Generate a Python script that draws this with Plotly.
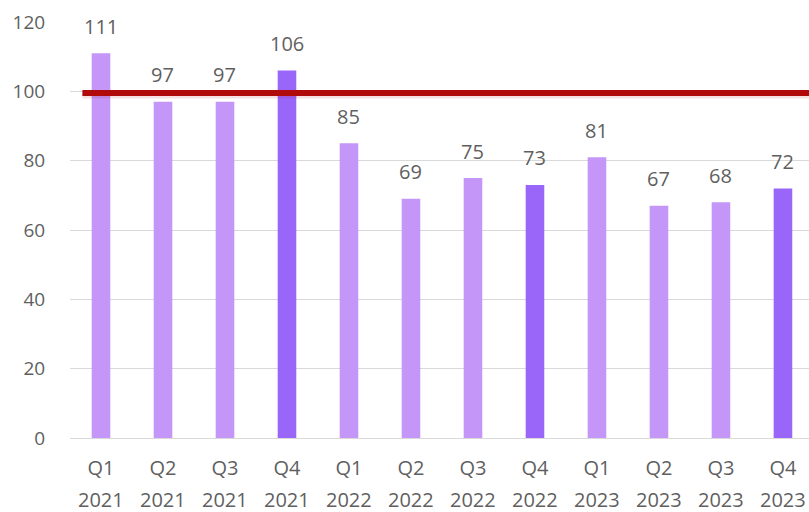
import plotly.graph_objects as go

quarters = ["Q1", "Q2", "Q3", "Q4", "Q1", "Q2", "Q3", "Q4", "Q1", "Q2", "Q3", "Q4"]
years = ["2021", "2021", "2021", "2021", "2022", "2022", "2022", "2022", "2023", "2023", "2023", "2023"]
values = [111, 97, 97, 106, 85, 69, 75, 73, 81, 67, 68, 72]
target = 100
y_ticks = [0, 20, 40, 60, 80, 100, 120]

LIGHT = "#C396F8"
DARK = "#9A66FA"
colors = [DARK if q == "Q4" else LIGHT for q in quarters]
FONT = "Open Sans"
TXT = "#5F5F5F"

fig = go.Figure()
fig.add_trace(go.Bar(
    x=list(range(len(values))), y=values,
    marker=dict(color=colors, line=dict(width=0)),
    width=0.3,
    hoverinfo="skip",
))

# value labels above bars
for i, v in enumerate(values):
    fig.add_annotation(x=i, y=v, text=str(v), showarrow=False,
                       xref="x", yref="y", yanchor="middle", yshift=27,
                       font=dict(family=FONT, size=20, color=TXT))

# year labels (second line of the category axis)
for i, yr in enumerate(years):
    fig.add_annotation(x=i, y=-0.149, text=yr, showarrow=False,
                       xref="x", yref="paper", yanchor="middle",
                       font=dict(family=FONT, size=20, color=TXT))

# shadow + target line
fig.add_shape(type="line", xref="x", yref="y", x0=-0.3, x1=11.6,
              y0=target - 1.2, y1=target - 1.2,
              line=dict(color="rgba(176,10,10,0.12)", width=6), layer="above")
fig.add_shape(type="line", xref="x", yref="y", x0=-0.3, x1=11.6,
              y0=target - 0.5, y1=target - 0.5,
              line=dict(color="#B00A0A", width=6), layer="above")

fig.update_layout(
    width=809, height=512,
    margin=dict(l=70, r=0, t=22, b=74),
    paper_bgcolor="white", plot_bgcolor="white",
    showlegend=False,
    bargap=0.7,
    xaxis=dict(
        tickmode="array", tickvals=list(range(len(values))), ticktext=quarters,
        range=[-0.5, 11.42], showgrid=False, zeroline=False, showline=False,
        ticks="outside", ticklen=12, tickcolor="rgba(0,0,0,0)", automargin=False,
        tickfont=dict(family=FONT, size=20, color=TXT),
    ),
    yaxis=dict(
        range=[0, 120], tickvals=y_ticks, showgrid=True, gridcolor="#D9D9D9",
        gridwidth=1, zeroline=True, zerolinecolor="#D9D9D9", zerolinewidth=1,
        showline=False, ticks="outside", ticklen=20, tickcolor="rgba(0,0,0,0)",
        automargin=False,
        tickfont=dict(family=FONT, size=19, color=TXT),
    ),
)

fig.write_html(
    "out.html",
    config={"displayModeBar": False},
    post_script="document.body.style.margin='0';document.body.style.overflow='hidden';",
)
